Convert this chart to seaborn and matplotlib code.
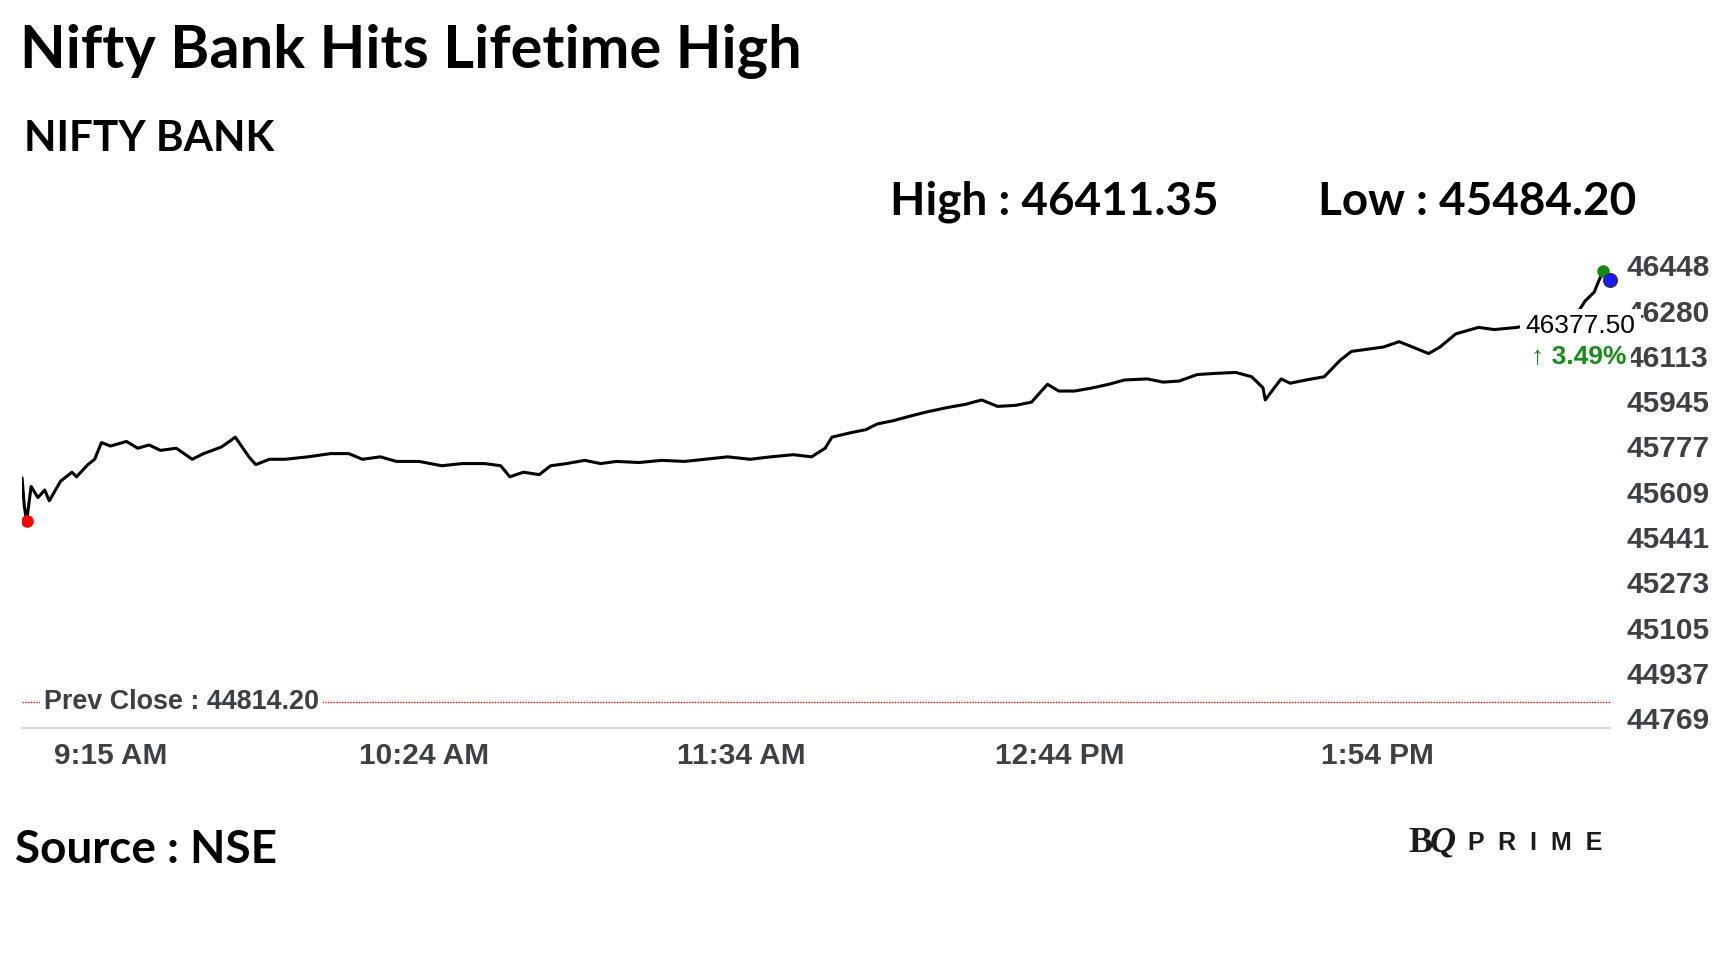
import matplotlib
matplotlib.use("Agg")
import matplotlib.pyplot as plt
import matplotlib.transforms as mtransforms
import seaborn as sns

# minutes after 9:15 AM and index level
minutes = [0, 0.5, 1, 2, 3.5, 5, 6, 8.5, 11, 12, 14.5, 16, 17.5, 19.5, 23, 25.5,
           28, 30.5, 34, 37.5, 40, 44, 47, 50, 51.5, 54.5, 58, 63, 68, 72, 75, 79,
           82.5, 87.5, 92.5, 97, 102, 105.5, 107.5, 110.5, 114, 116.5, 120, 124,
           127.5, 131, 136, 141, 146, 150.5, 155.5, 160.5, 165, 170, 174, 177,
           178.5, 182.5, 186, 188.5, 192, 195.5, 199.5, 204, 208, 211.5, 215, 219,
           222.5, 226, 228.5, 232, 236, 239.5, 243, 248, 251.5, 255, 259, 262.5,
           267.5, 271, 273.5, 274, 276, 277.5, 279.5, 283, 287, 290.5, 293, 296.5,
           300, 303.5, 306.5, 310, 312.5, 316, 321, 324.5, 329.5, 337, 343, 344.5,
           346.5, 347.5, 348.5, 349.5, 350]
prices = [45645, 45540, 45484.2, 45613, 45572, 45600, 45560, 45633, 45666, 45649,
          45694, 45714, 45776, 45763, 45780, 45755, 45767, 45747, 45755, 45714,
          45735, 45760, 45796, 45723, 45694, 45714, 45714, 45723, 45735, 45735,
          45714, 45723, 45706, 45706, 45690, 45698, 45698, 45690, 45649, 45666,
          45657, 45690, 45698, 45710, 45698, 45706, 45702, 45710, 45706, 45714,
          45723, 45714, 45723, 45731, 45723, 45755, 45796, 45812, 45824, 45845,
          45857, 45873, 45890, 45906, 45918, 45934, 45910, 45914, 45926, 45992,
          45967, 45967, 45979, 45992, 46008, 46012, 46000, 46004, 46028, 46032,
          46036, 46020, 45979, 45934, 45979, 46012, 45996, 46008, 46020, 46081,
          46114, 46122, 46130, 46150, 46130, 46106, 46130, 46179, 46203, 46195,
          46203, 46230, 46262, 46301, 46334, 46375, 46411.35, 46399, 46377.5]

prev_close = 44814.20
day_high = 46411.35
day_low = 45484.20
last_price = 46377.50
change_pct = 3.49
high_minute = 348.5
low_minute = 1
last_minute = 350

y_ticks = [44769, 44937, 45105, 45273, 45441, 45609, 45777, 45945, 46113, 46280, 46448]
x_ticks = [0, 69, 139, 209, 279, 350]
x_labels = ["9:15 AM", "10:24 AM", "11:34 AM", "12:44 PM", "1:54 PM", ""]

sns.set_style("white")
plt.rcParams["font.family"] = ["Liberation Sans", "DejaVu Sans"]

fig = plt.figure(figsize=(17.28, 9.72), dpi=100)
ax = fig.add_axes([0.01276, 0.2506, 0.9190, 0.4886])

sns.lineplot(x=minutes, y=prices, ax=ax, color="black", linewidth=2.2,
             estimator=None, sort=False)

ax.axhline(prev_close, color="red", linestyle=(0, (1, 1)), linewidth=1)
ax.text(4.9, prev_close, "Prev Close : 44814.20", fontsize=19.4, fontweight="bold",
        color="#3b4046", va="center", ha="left",
        bbox=dict(facecolor="white", edgecolor="none", pad=3))

ax.scatter([low_minute], [day_low], s=64, color="red", zorder=4)
ax.scatter([high_minute], [day_high], s=64, color="#138a13", zorder=4)
ax.scatter([last_minute], [last_price], s=100, color="#1a1aff", edgecolor="#333333",
           linewidth=0.8, zorder=5, clip_on=False)

ax.annotate(f"{last_price:.2f}", xy=(last_minute, last_price), xytext=(18, -33),
            textcoords="offset points", ha="right", va="center", fontsize=19,
            color="black", zorder=6,
            bbox=dict(facecolor="white", edgecolor="none", pad=4))
ax.annotate(f"\u2191 {change_pct:.2f}%", xy=(last_minute, last_price), xytext=(12, -55),
            textcoords="offset points", ha="right", va="center", fontsize=19,
            fontweight="bold", color="#178c17", zorder=6,
            bbox=dict(facecolor="white", edgecolor="none", pad=3))

ax.set_xlim(0, 350)
ax.set_ylim(44716, 46477)
ax.set_xticks(x_ticks)
ax.set_xticklabels(x_labels)
ax.set_yticks(y_ticks)
ax.set_yticklabels([str(v) for v in y_ticks])
ax.yaxis.tick_right()

for s in ["top", "left", "right"]:
    ax.spines[s].set_visible(False)
ax.spines["bottom"].set_color("#d9d9d9")
ax.spines["bottom"].set_linewidth(1.5)

ax.tick_params(axis="x", direction="out", length=5.5, width=1.2, color="#d9d9d9",
               pad=4, labelsize=21.5, labelcolor="#3d4145")
ax.tick_params(axis="y", length=0, pad=12, labelsize=21.5, labelcolor="#3d4145")
for lab in ax.get_xticklabels() + ax.get_yticklabels():
    lab.set_fontweight("bold")

offset = mtransforms.ScaledTranslation(0.89, 0, fig.dpi_scale_trans)
for lab in ax.get_xticklabels():
    lab.set_transform(lab.get_transform() + offset)
down = mtransforms.ScaledTranslation(0, -0.04, fig.dpi_scale_trans)
for lab in ax.get_yticklabels():
    lab.set_transform(lab.get_transform() + down)

# header and footer texts
fig.text(0.0115, 0.9297, "Nifty Bank Hits Lifetime High", fontsize=42.8,
         fontweight="bold", family="Lato", color="black", va="baseline")
fig.text(0.014, 0.8447, "NIFTY BANK", fontsize=30.4, fontweight="bold",
         family="Lato", color="black", va="baseline")
fig.text(0.5153, 0.7789, f"High : {day_high:.2f}", fontsize=33, fontweight="bold",
         family="Lato", color="black", va="baseline")
fig.text(0.7628, 0.7789, f"Low : {day_low:.2f}", fontsize=33, fontweight="bold",
         family="Lato", color="black", va="baseline")
fig.text(0.0089, 0.1122, "Source : NSE", fontsize=33, fontweight="bold",
         family="Lato", color="black", va="baseline")

fig.text(0.8148, 0.1235, "B", fontsize=26, fontweight="bold", family="Liberation Serif",
         color="#1c1c1c", va="baseline")
fig.text(0.8275, 0.1235, "Q", fontsize=26, fontweight="bold", style="italic",
         family="Liberation Serif", color="#1c1c1c", va="baseline")
fig.text(0.8495, 0.1255, "P  R  I  M  E", fontsize=18, fontweight="bold",
         family="Liberation Sans", color="#1c1c1c", va="baseline")

fig.savefig("out.png", dpi=100, facecolor="white")
